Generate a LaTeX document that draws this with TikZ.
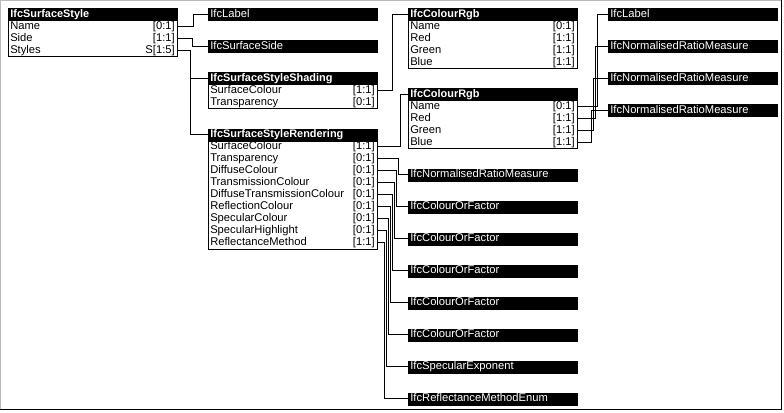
\documentclass[tikz,border=0pt]{standalone}
\usepackage{fontspec}
\setmainfont{Liberation Sans}
\tikzset{
  hdr/.style={anchor=north west, fill=black, draw=black, line width=0.5pt, text=white,
    font=\fontsize{8.2}{9}\selectfont\bfseries, minimum width=126.75pt, minimum height=9pt,
    inner sep=0pt, text width=123.75pt, align=left, text height=6pt, text depth=1.6pt},
  leaf/.style={hdr, font=\fontsize{8.4}{9}\selectfont},
  bodybox/.style={anchor=north west, draw=black, line width=0.75pt, minimum width=126.75pt,
    inner sep=0pt, fill=white},
  attr/.style={anchor=west, inner xsep=1.5pt, inner ysep=0pt, font=\fontsize{8.4}{9}\selectfont,
    text height=6pt, text depth=1.4pt},
  card/.style={attr, anchor=east},
  conn/.style={draw=black, line width=0.75pt},
}
\begin{document}
\begin{tikzpicture}[x=0.75pt,y=-0.75pt]
\useasboundingbox (0,0) rectangle (784,412);
% frame
\draw[gray!55, line width=0.75pt] (0.5,410) -- (0.5,0.5) -- (782,0.5);
\draw[black, line width=1.1pt] (781.5,0) -- (781.5,409.5) -- (0,409.5);

% IfcSurfaceStyle
\node[bodybox, minimum height=27pt] (ss-body) at (8,20) {};
\node[hdr] (ss) at (8,8) {IfcSurfaceStyle};
\node[attr] (ss-name-l) at (8,26) {Name};   \node[card] (ss-name) at (177,26) {[0:1]};
\node[attr] (ss-side-l) at (8,38) {Side};   \node[card] (ss-side) at (177,38) {[1:1]};
\node[attr] (ss-sty-l) at (8,50) {Styles};  \node[card] (ss-sty) at (177,50) {S[1:5]};

% leaf boxes column 2
\node[leaf] (lbl1) at (208,8) {IfcLabel};
\node[leaf] (side) at (208,40) {IfcSurfaceSide};

% IfcSurfaceStyleShading
\node[bodybox, minimum height=18pt] (sh-body) at (208,84) {};
\node[hdr] (sh) at (208,72) {IfcSurfaceStyleShading};
\node[attr] (sh-sc-l) at (208,90) {SurfaceColour}; \node[card] (sh-sc) at (377,90) {[1:1]};
\node[attr] (sh-tr-l) at (208,102) {Transparency}; \node[card] (sh-tr) at (377,102) {[0:1]};

% IfcSurfaceStyleRendering
\node[bodybox, minimum height=81pt] (r-body) at (208,140.5) {};
\node[hdr] (r) at (208,128.5) {IfcSurfaceStyleRendering};
\node[attr] at (208,146.5) {SurfaceColour};              \node[card] (r-sc) at (377,146.5) {[1:1]};
\node[attr] at (208,158.5) {Transparency};               \node[card] (r-tr) at (377,158.5) {[0:1]};
\node[attr] at (208,170.5) {DiffuseColour};              \node[card] (r-dc) at (377,170.5) {[0:1]};
\node[attr] at (208,182.5) {TransmissionColour};         \node[card] (r-tc) at (377,182.5) {[0:1]};
\node[attr] at (208,194.5) {DiffuseTransmissionColour};  \node[card] (r-dtc) at (377,194.5) {[0:1]};
\node[attr] at (208,206.5) {ReflectionColour};           \node[card] (r-rc) at (377,206.5) {[0:1]};
\node[attr] at (208,218.5) {SpecularColour};             \node[card] (r-spc) at (377,218.5) {[0:1]};
\node[attr] at (208,230.5) {SpecularHighlight};          \node[card] (r-sh) at (377,230.5) {[0:1]};
\node[attr] at (208,242.5) {ReflectanceMethod};          \node[card] (r-rm) at (377,242.5) {[1:1]};

% IfcColourRgb 1
\node[bodybox, minimum height=36pt] (c1-body) at (408,20) {};
\node[hdr] (rgb1) at (408,8) {IfcColourRgb};
\node[attr] at (408,26) {Name};  \node[card] (c1-name) at (577,26) {[0:1]};
\node[attr] at (408,38) {Red};   \node[card] (c1-red) at (577,38) {[1:1]};
\node[attr] at (408,50) {Green}; \node[card] (c1-green) at (577,50) {[1:1]};
\node[attr] at (408,62) {Blue};  \node[card] (c1-blue) at (577,62) {[1:1]};

% IfcColourRgb 2
\node[bodybox, minimum height=36pt] (c2-body) at (408,100) {};
\node[hdr] (rgb2) at (408,88) {IfcColourRgb};
\node[attr] at (408,106) {Name};  \node[card] (c2-name) at (577,106) {[0:1]};
\node[attr] at (408,118) {Red};   \node[card] (c2-red) at (577,118) {[1:1]};
\node[attr] at (408,130) {Green}; \node[card] (c2-green) at (577,130) {[1:1]};
\node[attr] at (408,142) {Blue};  \node[card] (c2-blue) at (577,142) {[1:1]};

% leaf boxes column 3
\node[leaf] (nrm1) at (408,168.5) {IfcNormalisedRatioMeasure};
\node[leaf] (cof1) at (408,200.5) {IfcColourOrFactor};
\node[leaf] (cof2) at (408,232.5) {IfcColourOrFactor};
\node[leaf] (cof3) at (408,264.5) {IfcColourOrFactor};
\node[leaf] (cof4) at (408,296.5) {IfcColourOrFactor};
\node[leaf] (cof5) at (408,328.5) {IfcColourOrFactor};
\node[leaf] (spx) at (408,360.5) {IfcSpecularExponent};
\node[leaf] (rme) at (408,392.5) {IfcReflectanceMethodEnum};

% leaf boxes column 4
\node[leaf] (lbl2) at (608,8) {IfcLabel};
\node[leaf] (rn1) at (608,40) {IfcNormalisedRatioMeasure};
\node[leaf] (rn2) at (608,72) {IfcNormalisedRatioMeasure};
\node[leaf] (rn3) at (608,104) {IfcNormalisedRatioMeasure};

% connectors
\draw[conn] (ss-name.east) -- ++(16,0) |- (lbl1.west);
\draw[conn] (ss-side.east) -- ++(15.5,0) |- (side.west);
\draw[conn] (ss-sty.east) -- ++(13,0) |- (sh.west);
\draw[conn] (ss-sty.east) -- ++(13,0) |- (r.west);
\draw[conn] (sh-sc.east) -- ++(15.5,0) |- (rgb1.west);
\draw[conn] (r-sc.east) -- ++(23,0) |- (rgb2.west);
\draw[conn] (r-tr.east) -- ++(21,0) |- (nrm1.west);
\draw[conn] (r-dc.east) -- ++(19,0) |- (cof1.west);
\draw[conn] (r-tc.east) -- ++(17,0) |- (cof2.west);
\draw[conn] (r-dtc.east) -- ++(15,0) |- (cof3.west);
\draw[conn] (r-rc.east) -- ++(13,0) |- (cof4.west);
\draw[conn] (r-spc.east) -- ++(11,0) |- (cof5.west);
\draw[conn] (r-sh.east) -- ++(9,0) |- (spx.west);
\draw[conn] (r-rm.east) -- ++(7,0) |- (rme.west);
\draw[conn] (c2-name.east) -- ++(20,0) |- (lbl2.west);
\draw[conn] (c2-red.east) -- ++(18,0) |- (rn1.west);
\draw[conn] (c2-green.east) -- ++(16,0) |- (rn2.west);
\draw[conn] (c2-blue.east) -- ++(14,0) |- (rn3.west);
\end{tikzpicture}
\end{document}
